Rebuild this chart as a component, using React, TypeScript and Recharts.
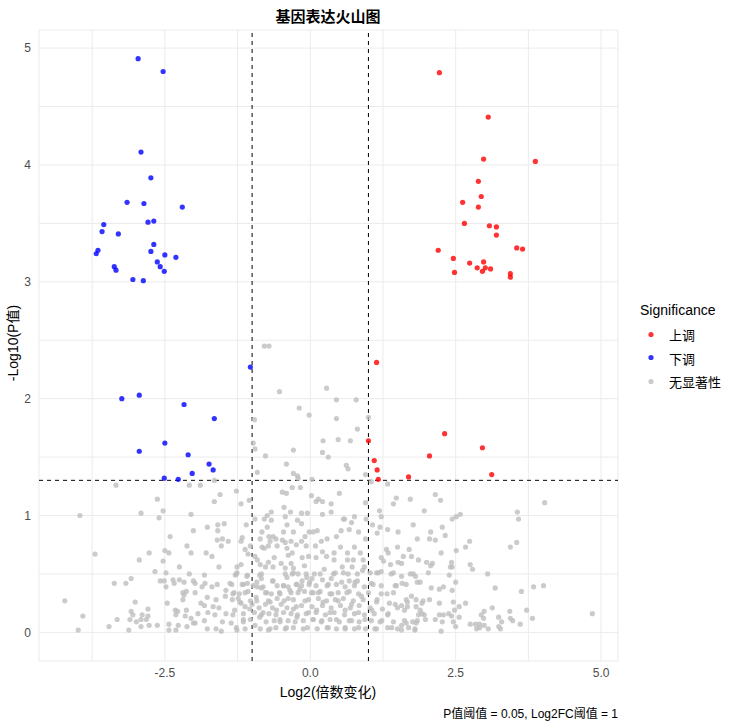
import React from 'react';
import { ScatterChart, Scatter, XAxis, YAxis, CartesianGrid, ReferenceLine } from 'recharts';

// [log2FC, -log10(p)]
const upregulated: [number, number][] = [
  [2.22, 4.79], [3.06, 4.41], [2.98, 4.05], [3.87, 4.03], [2.89, 3.86], [2.94, 3.73], [2.62, 3.68],
  [2.89, 3.64], [2.65, 3.5], [3.08, 3.48], [3.2, 3.47], [3.2, 3.4], [3.55, 3.29], [3.65, 3.28],
  [2.2, 3.27], [2.46, 3.2], [2.74, 3.16], [2.98, 3.17], [2.87, 3.12], [3.01, 3.12], [3.1, 3.11],
  [2.96, 3.09], [2.48, 3.08], [3.44, 3.07], [3.44, 3.04],
  [1.14, 2.31], [1.0, 1.64], [2.31, 1.7], [2.96, 1.58], [2.05, 1.51], [1.1, 1.47], [1.15, 1.39],
  [1.69, 1.33], [3.12, 1.35], [1.17, 1.31],
];

const downregulated: [number, number][] = [
  [-2.96, 4.91], [-2.53, 4.8], [-2.91, 4.11], [-2.74, 3.89], [-3.15, 3.68], [-2.86, 3.67], [-2.2, 3.64],
  [-3.55, 3.49], [-2.79, 3.51], [-2.69, 3.52], [-3.58, 3.43], [-3.3, 3.41], [-2.69, 3.32], [-2.74, 3.26],
  [-3.65, 3.27], [-3.68, 3.24], [-2.5, 3.23], [-2.31, 3.21], [-2.63, 3.17], [-3.37, 3.13], [-3.34, 3.1],
  [-2.58, 3.13], [-2.51, 3.09], [-3.05, 3.02], [-2.87, 3.01],
  [-1.03, 2.27], [-3.24, 2.0], [-2.94, 2.03], [-2.17, 1.95], [-1.65, 1.83], [-2.5, 1.62], [-2.94, 1.55],
  [-2.1, 1.52], [-1.74, 1.44], [-1.67, 1.39], [-2.03, 1.36], [-2.51, 1.32], [-2.27, 1.31],
];

const notSignificant: [number, number][] = [
  [-0.79, 2.45], [-0.71, 2.45], [-0.53, 2.06], [0.28, 2.09], [-0.19, 1.92], [-0.02, 1.86], [-0.96, 1.82],
  [0.22, 1.64], [-0.98, 1.62], [-0.95, 1.57], [-0.29, 1.56], [-0.77, 1.51], [0.21, 1.54], [0.31, 1.5],
  [-0.41, 1.44], [-0.91, 1.37], [-0.29, 1.36], [-0.22, 1.34], [-0.21, 1.32], [0.03, 1.31],
  [-2.08, 1.26], [-1.89, 1.26], [-1.65, 1.3], [-1.55, 1.18], [-1.27, 1.21], [-1.65, 1.12], [-1.19, 1.1],
  [-1.05, 1.13], [-0.48, 1.2], [-0.41, 1.19], [-0.31, 1.24], [-0.17, 1.24], [0.02, 1.17], [0.1, 1.12],
  [0.14, 1.14], [0.21, 1.12], [-0.45, 1.07], [-0.34, 1.03], [-0.67, 1.03], [-0.74, 1.0], [-0.15, 1.02],
  [-0.05, 1.02], [0.21, 1.01], [-0.43, 0.99],
  [0.45, 1.99], [0.79, 1.99], [0.45, 1.83], [1.0, 1.84], [0.81, 1.74], [0.48, 1.65], [0.69, 1.64],
  [0.62, 1.43], [0.65, 1.4], [0.95, 1.35], [1.05, 1.29], [1.33, 1.27], [0.5, 1.19], [1.48, 1.15],
  [1.43, 1.1], [0.95, 1.11], [0.36, 1.1], [1.19, 1.04], [0.36, 1.03], [1.22, 0.99], [0.59, 0.97],
  [0.76, 0.99], [0.96, 0.97],
  [-3.34, 1.26], [-2.63, 1.14], [-2.91, 1.02], [-2.53, 1.04], [-2.6, 0.98], [-2.05, 1.01], [-3.96, 1.0],
  [-2.01, 0.87], [-2.41, 0.82], [-2.12, 0.74], [-2.05, 0.68], [-2.5, 0.7], [-2.43, 0.68], [-2.77, 0.68],
  [-2.94, 0.62], [-2.53, 0.61], [-3.7, 0.67], [-2.25, 0.56], [-2.67, 0.52], [-2.48, 0.51], [-2.08, 0.5],
  [-3.08, 0.46], [-3.37, 0.42], [-3.17, 0.42], [-2.58, 0.44], [-2.51, 0.44], [-2.48, 0.39], [-2.36, 0.45],
  [-2.34, 0.42], [-2.25, 0.45], [-2.17, 0.43], [-2.01, 0.44], [-1.98, 0.42], [-2.13, 0.35], [-2.19, 0.34],
  [-1.98, 0.34], [-2.19, 0.28], [-2.17, 0.32], [-4.22, 0.27], [-3.01, 0.26], [-2.46, 0.25], [-2.79, 0.2],
  [-3.08, 0.18], [-3.05, 0.15], [-2.89, 0.15], [-2.79, 0.14], [-3.91, 0.14], [-3.32, 0.11], [-3.1, 0.11],
  [-2.99, 0.09], [-2.91, 0.11], [-2.82, 0.11], [-2.32, 0.19], [-2.28, 0.18], [-2.31, 0.15], [-2.13, 0.19],
  [-2.15, 0.14], [-2.05, 0.12], [-2.01, 0.08], [-1.93, 0.16], [-3.46, 0.05], [-3.12, 0.02], [-3.99, 0.02],
  [-2.91, 0.05], [-2.77, 0.06], [-2.63, 0.06], [-2.43, 0.07], [-2.27, 0.06], [-2.43, 0.02], [-2.31, 0.02],
  [-2.12, 0.05], [-1.98, 0.08],
  [2.15, 1.18], [1.72, 1.14], [2.24, 1.13], [4.03, 1.11], [1.96, 1.04], [3.56, 1.03], [2.58, 1.01],
  [2.51, 0.99], [2.44, 0.97], [3.58, 0.97], [1.77, 0.92], [2.27, 0.9], [2.07, 0.86], [2.32, 0.83],
  [1.84, 0.8], [2.05, 0.8], [2.15, 0.79], [2.74, 0.78], [3.55, 0.77], [2.67, 0.73], [3.44, 0.73],
  [1.7, 0.71], [2.51, 0.7], [2.25, 0.68], [1.6, 0.65], [1.74, 0.65], [1.86, 0.62], [2.0, 0.6],
  [2.1, 0.59], [2.07, 0.57], [2.43, 0.6], [2.41, 0.56], [2.44, 0.56], [2.75, 0.58], [2.79, 0.54],
  [1.57, 0.59], [2.03, 0.51], [1.72, 0.5], [1.77, 0.5], [1.81, 0.48], [2.39, 0.49], [3.05, 0.5],
  [1.57, 0.48], [1.84, 0.43], [1.89, 0.43], [1.65, 0.41], [1.58, 0.42], [2.5, 0.43], [4.01, 0.4],
  [3.84, 0.39], [3.18, 0.38], [2.08, 0.38], [2.22, 0.37], [2.29, 0.39], [2.44, 0.36], [3.63, 0.35],
  [1.74, 0.31], [1.82, 0.28], [1.94, 0.27], [2.05, 0.28], [1.65, 0.28], [1.67, 0.26], [1.57, 0.23],
  [1.67, 0.22], [1.82, 0.22], [1.92, 0.25], [2.22, 0.25], [2.46, 0.26], [2.67, 0.25], [2.56, 0.22],
  [1.62, 0.19], [1.89, 0.19], [2.48, 0.19], [3.13, 0.21], [3.43, 0.18], [3.72, 0.19], [4.85, 0.16],
  [1.86, 0.15], [1.96, 0.15], [1.92, 0.16], [2.22, 0.15], [2.29, 0.15], [2.38, 0.16], [2.43, 0.14],
  [2.56, 0.13], [2.99, 0.18], [2.94, 0.15], [2.98, 0.12], [3.24, 0.13], [3.29, 0.09], [3.44, 0.12],
  [3.48, 0.1], [3.82, 0.12], [3.61, 0.07], [2.15, 0.11], [1.98, 0.11], [2.27, 0.09], [2.46, 0.09],
  [1.62, 0.1], [1.76, 0.09], [1.84, 0.1], [1.82, 0.08], [1.65, 0.08], [1.57, 0.06], [1.69, 0.04],
  [1.8, 0.03], [1.57, 0.02], [1.8, 0.02], [2.25, 0.01], [2.5, 0.05], [2.75, 0.07], [2.84, 0.07],
  [2.91, 0.07], [2.86, 0.03], [2.91, 0.04], [2.99, 0.06], [3.06, 0.03], [3.24, 0.05], [3.27, 0.03],
  [-0.79, 0.97], [-0.95, 0.97], [-1.1, 0.92], [-0.67, 0.96], [-0.22, 0.96], [-0.4, 0.92], [-1.77, 0.9],
  [-1.59, 0.92], [-1.48, 0.93], [-1.59, 0.87], [-0.74, 0.9], [-0.83, 0.86], [-0.46, 0.86], [-0.29, 0.86],
  [-1.6, 0.79], [-1.51, 0.8], [-1.41, 0.78], [-1.53, 0.74], [-1.17, 0.81], [-1.19, 0.78], [-1.03, 0.74],
  [-0.86, 0.8], [-0.71, 0.82], [-0.64, 0.82], [-0.69, 0.78], [-0.59, 0.8], [-0.48, 0.79], [-0.43, 0.77],
  [-0.33, 0.78], [-0.24, 0.75], [-0.72, 0.74], [-0.83, 0.73], [-0.79, 0.72], [-0.57, 0.74], [-0.4, 0.72],
  [-1.12, 0.71], [-1.79, 0.68], [-1.69, 0.65], [-1.07, 0.67], [-0.95, 0.65], [-0.91, 0.62], [-0.86, 0.58],
  [-0.72, 0.6], [-0.62, 0.64], [-0.5, 0.59], [-0.38, 0.66], [-0.31, 0.68], [-0.33, 0.59], [-1.19, 0.58],
  [-1.26, 0.56], [-1.57, 0.56], [-0.77, 0.56], [-0.64, 0.56], [-0.43, 0.55], [-0.29, 0.55], [-1.82, 0.49],
  [-1.26, 0.51], [-1.29, 0.49], [-1.08, 0.49], [-0.84, 0.5], [-0.43, 0.5], [-0.31, 0.5], [-0.21, 0.5],
  [-0.84, 0.46], [-0.65, 0.44], [-0.4, 0.47], [-1.81, 0.42], [-1.86, 0.39], [-1.69, 0.39], [-1.6, 0.41],
  [-1.38, 0.42], [-1.17, 0.41], [-1.08, 0.42], [-0.98, 0.4], [-0.91, 0.39], [-0.84, 0.38], [-0.57, 0.4],
  [-0.46, 0.4], [-0.38, 0.39], [-0.24, 0.41], [-1.45, 0.36], [-1.31, 0.34], [-1.22, 0.33], [-1.07, 0.35],
  [-0.77, 0.34], [-0.67, 0.33], [-0.53, 0.34], [-0.33, 0.34], [-0.21, 0.34], [-1.77, 0.3], [-1.62, 0.28],
  [-1.46, 0.31], [-1.34, 0.28], [-1.24, 0.29], [-1.03, 0.27], [-0.93, 0.3], [-0.72, 0.27], [-0.57, 0.29],
  [-0.45, 0.27], [-0.29, 0.28], [-1.88, 0.25], [-1.82, 0.23], [-1.67, 0.22], [-1.57, 0.21], [-1.19, 0.25],
  [-1.12, 0.22], [-1.0, 0.24], [-0.88, 0.21], [-0.77, 0.24], [-0.65, 0.21], [-0.5, 0.24], [-0.4, 0.21],
  [-0.24, 0.22], [-1.76, 0.17], [-1.64, 0.15], [-1.45, 0.16], [-1.33, 0.15], [-1.15, 0.16], [-0.96, 0.17],
  [-0.84, 0.15], [-0.71, 0.16], [-0.59, 0.15], [-0.46, 0.17], [-0.33, 0.16], [-0.22, 0.15], [-1.82, 0.1],
  [-1.51, 0.09], [-1.36, 0.08], [-1.15, 0.09], [-1.03, 0.11], [-0.76, 0.09], [-0.62, 0.1], [-0.52, 0.09],
  [-0.38, 0.1], [-0.26, 0.09], [-1.77, 0.03], [-1.62, 0.03], [-1.53, 0.01], [-1.26, 0.02], [-1.12, 0.03],
  [-0.86, 0.03], [-0.72, 0.02], [-0.59, 0.04], [-0.43, 0.03], [-0.29, 0.04],
  [0.57, 0.97], [0.71, 0.94], [-0.15, 0.93], [1.07, 0.92], [1.2, 0.9], [-0.02, 0.86], [0.05, 0.86],
  [0.12, 0.87], [0.53, 0.87], [0.67, 0.88], [0.83, 0.86], [1.15, 0.85], [1.33, 0.88], [1.51, 0.86],
  [-0.09, 0.82], [0.45, 0.82], [-0.15, 0.78], [0.19, 0.78], [0.29, 0.8], [0.95, 0.8], [-0.07, 0.74],
  [0.09, 0.74], [0.52, 0.73], [0.76, 0.73], [1.31, 0.71], [1.5, 0.73], [0.21, 0.69], [0.41, 0.68],
  [0.64, 0.68], [0.86, 0.68], [1.34, 0.68], [-0.14, 0.64], [-0.03, 0.65], [0.1, 0.64], [0.28, 0.65],
  [0.41, 0.62], [0.64, 0.62], [0.74, 0.62], [0.91, 0.62], [1.22, 0.64], [1.26, 0.61], [-0.1, 0.57],
  [0.24, 0.54], [0.55, 0.56], [0.72, 0.56], [0.93, 0.56], [1.38, 0.58], [1.51, 0.6], [-0.07, 0.5],
  [0.07, 0.5], [0.4, 0.5], [0.57, 0.51], [0.81, 0.5], [0.9, 0.53], [1.03, 0.51], [1.14, 0.51],
  [1.22, 0.52], [1.39, 0.5], [-0.14, 0.44], [0.03, 0.46], [0.21, 0.45], [0.36, 0.46], [0.67, 0.44],
  [0.81, 0.44], [1.05, 0.42], [-0.15, 0.4], [-0.02, 0.41], [0.1, 0.4], [0.29, 0.4], [0.45, 0.41],
  [0.6, 0.39], [0.76, 0.4], [0.93, 0.39], [1.22, 0.4], [1.48, 0.4], [-0.1, 0.35], [0.05, 0.34],
  [0.17, 0.35], [0.34, 0.33], [0.48, 0.34], [0.67, 0.35], [0.83, 0.33], [1.0, 0.34], [1.22, 0.33],
  [1.43, 0.34], [-0.03, 0.28], [0.14, 0.29], [0.28, 0.27], [0.43, 0.28], [0.57, 0.29], [0.74, 0.27],
  [0.91, 0.28], [1.15, 0.28], [1.36, 0.25], [-0.15, 0.23], [0.03, 0.22], [0.21, 0.23], [0.36, 0.21],
  [0.52, 0.23], [0.69, 0.21], [0.84, 0.23], [1.03, 0.21], [1.24, 0.2], [1.5, 0.21], [-0.07, 0.16],
  [0.1, 0.17], [0.26, 0.15], [0.41, 0.17], [0.59, 0.15], [0.76, 0.16], [0.93, 0.15], [1.1, 0.16],
  [1.33, 0.15], [-0.12, 0.1], [0.05, 0.11], [0.19, 0.09], [0.34, 0.11], [0.5, 0.09], [0.67, 0.1],
  [0.84, 0.09], [1.05, 0.1], [1.2, 0.09], [1.43, 0.09], [-0.05, 0.04], [0.12, 0.03], [0.29, 0.04],
  [0.45, 0.03], [0.6, 0.04], [0.76, 0.03], [0.95, 0.03], [1.14, 0.03], [1.33, 0.04], [1.5, 0.03],
  [-1.27, 0.5], [-1.09, 0.48], [-0.87, 0.49], [-0.64, 0.44], [-0.29, 0.51], [-0.06, 0.47], [-0.01, 0.43],
  [-1.35, 0.41], [-1.15, 0.41], [-0.92, 0.43], [-0.81, 0.39], [-0.46, 0.4], [-0.23, 0.41], [-1.33, 0.33],
  [-1.12, 0.34], [-0.75, 0.34], [-0.52, 0.33], [-0.35, 0.36], [-0.18, 0.37], [0.02, 0.34], [-1.21, 0.26],
  [-0.92, 0.27], [-0.69, 0.26], [-0.38, 0.29], [-0.09, 0.27], [-1.3, 0.19], [-1.04, 0.2], [-0.81, 0.17],
  [-0.58, 0.19], [-0.29, 0.2], [-0.03, 0.17], [-1.15, 0.11], [-0.87, 0.13], [-0.52, 0.11], [-0.23, 0.13],
  [0.05, 0.11], [-1.27, 0.04], [-0.95, 0.06], [-0.69, 0.03], [-0.41, 0.04], [-0.12, 0.03],
  [0.17, 0.5], [0.43, 0.51], [0.65, 0.5], [1.17, 0.51], [1.43, 0.51], [0.31, 0.41], [0.54, 0.43],
  [0.77, 0.43], [1.08, 0.41], [1.46, 0.4], [0.14, 0.34], [0.37, 0.33], [0.63, 0.34], [0.88, 0.31],
  [1.32, 0.33], [0.22, 0.26], [0.48, 0.27], [0.71, 0.24], [1.14, 0.26], [1.46, 0.24], [0.11, 0.19],
  [0.34, 0.17], [0.6, 0.19], [0.83, 0.17], [1.06, 0.19], [1.34, 0.16], [0.2, 0.1], [0.45, 0.11],
  [0.71, 0.1], [0.94, 0.11], [1.23, 0.1], [0.31, 0.04], [0.6, 0.03], [0.83, 0.04], [1.11, 0.03],
  [1.4, 0.04],
];

const xTicks = [-3.75, -2.5, -1.25, 0, 1.25, 2.5, 3.75, 5];
const yTicks = [0, 0.5, 1, 1.5, 2, 2.5, 3, 3.5, 4, 4.5, 5];
const majorX = [-2.5, 0, 2.5, 5];

const legendItems = [
  { label: '上调', color: '#FF0000' },
  { label: '下调', color: '#0000FF' },
  { label: '无显著性', color: '#BEBEBE' },
];

const toPoints = (rows: [number, number][]) => rows.map(([x, y]) => ({ x, y }));

const font = '"Liberation Sans", Arial, "Noto Sans CJK SC", sans-serif';

const dot = (color: string) => (props: any) => (
  <circle cx={props.cx} cy={props.cy} r={2.6} fill={color} fillOpacity={0.8} />
);

export default function App() {
  return (
    <div style={{ position: 'absolute', left: 0, top: 0, width: 734, height: 725, background: '#fff', fontFamily: font }}>
      <ScatterChart width={734} height={725} margin={{ top: 30, right: 116, bottom: 0, left: 0 }}>
        <CartesianGrid stroke="#EBEBEB" strokeWidth={1} />
        <XAxis
          type="number"
          dataKey="x"
          domain={[-4.664, 5.291]}
          ticks={xTicks}
          allowDataOverflow
          axisLine={false}
          tickLine={false}
          tickSize={4}
          tickMargin={3}
          height={64}
          tick={{ fill: '#4D4D4D', fontSize: 12, fontFamily: font }}
          tickFormatter={(v: number) => (majorX.includes(v) ? v.toFixed(1) : '')}
        />
        <YAxis
          type="number"
          dataKey="y"
          domain={[-0.245, 5.155]}
          ticks={yTicks}
          allowDataOverflow
          axisLine={false}
          tickLine={false}
          width={39}
          tickSize={6}
          tickMargin={2}
          tick={{ fill: '#4D4D4D', fontSize: 12, fontFamily: font }}
          tickFormatter={(v: number) => (Number.isInteger(v) ? String(v) : '')}
        />
        <Scatter data={toPoints(notSignificant)} isAnimationActive={false} shape={dot('#BEBEBE')} />
        <Scatter data={toPoints(upregulated)} isAnimationActive={false} shape={dot('#FF0000')} />
        <Scatter data={toPoints(downregulated)} isAnimationActive={false} shape={dot('#0000FF')} />
        <ReferenceLine x={-1} stroke="#000" strokeDasharray="4 4" strokeWidth={1} />
        <ReferenceLine x={1} stroke="#000" strokeDasharray="4 4" strokeWidth={1} />
        <ReferenceLine y={-Math.log10(0.05)} stroke="#000" strokeDasharray="4 4" strokeWidth={1} />
      </ScatterChart>

      <div style={{ position: 'absolute', left: 328, top: 15, transform: 'translate(-50%, -50%)', fontSize: 15, fontWeight: 'bold', whiteSpace: 'nowrap' }}>
        基因表达火山图
      </div>
      <div style={{ position: 'absolute', left: 328, top: 691, transform: 'translate(-50%, -50%)', fontSize: 14, whiteSpace: 'nowrap' }}>
        Log2(倍数变化)
      </div>
      <div style={{ position: 'absolute', left: 12, top: 343, transform: 'translate(-50%, -50%) rotate(-90deg)', fontSize: 14, whiteSpace: 'nowrap' }}>
        -Log10(P值)
      </div>
      <div style={{ position: 'absolute', right: 734 - 618, top: 712, transform: 'translateY(-50%)', fontSize: 12, whiteSpace: 'nowrap' }}>
        P值阈值 = 0.05, Log2FC阈值 = 1
      </div>

      <div style={{ position: 'absolute', left: 640, top: 310, transform: 'translateY(-50%)', fontSize: 14, whiteSpace: 'nowrap' }}>
        Significance
      </div>
      {legendItems.map((item, i) => (
        <div key={item.label} style={{ position: 'absolute', left: 646, top: 334 + i * 23.5, transform: 'translateY(-50%)', display: 'flex', alignItems: 'center', fontSize: 13, whiteSpace: 'nowrap' }}>
          <svg width={10} height={10}>
            <circle cx={5} cy={5} r={2.6} fill={item.color} fillOpacity={0.8} />
          </svg>
          <span style={{ marginLeft: 13 }}>{item.label}</span>
        </div>
      ))}
    </div>
  );
}
